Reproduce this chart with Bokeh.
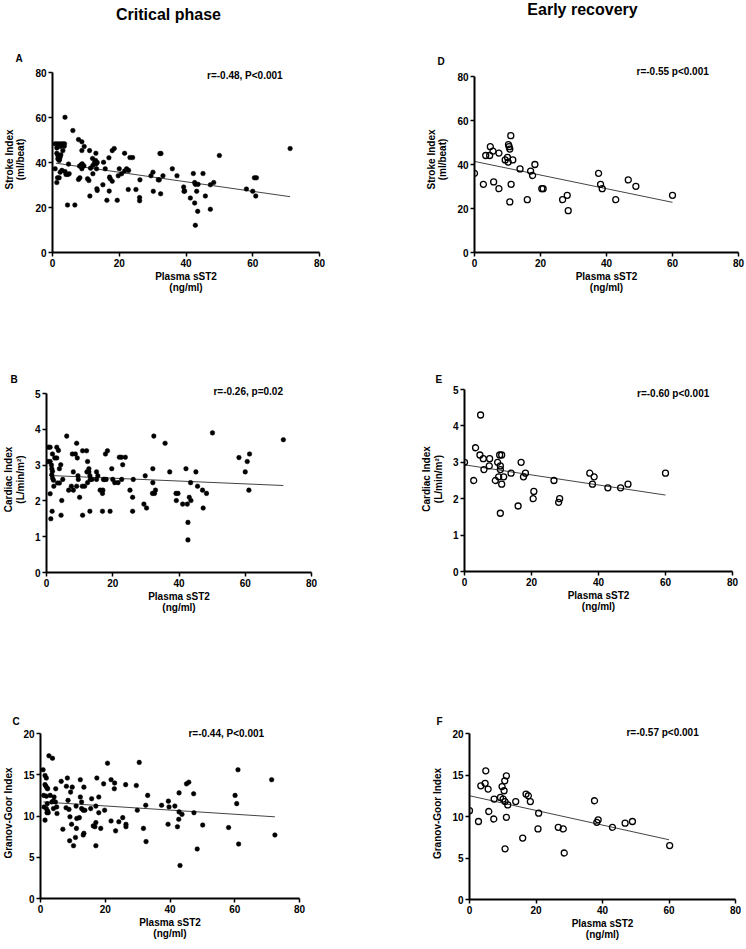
from bokeh.plotting import figure
from bokeh.models import Range1d, FixedTicker, Label, Title
from bokeh.layouts import column, row
from bokeh.embed import file_html
from bokeh.resources import INLINE

FONT = "Liberation Sans"

# ---------------- Data ----------------
headers = ["Critical phase", "Early recovery"]

# Critical phase
crit_sst2_A = [3.75, 6.1, 7.8, 8.8, 9.5, 8.8, 11.1, 13.0, 0.8, 1.5, 2.3, 3.0, 3.6, 3.5, 2.3, 1.3, 3.1,
               1.3, 1.6, 1.9, 1.6, 2.0, 2.5, 2.3, 2.1, 4.8, 0.8, 2.3, 2.8, 3.75, 4.05, 4.6, 5.0, 1.5, 2.0,
               1.3, 4.5, 6.7, 8.1, 8.8, 9.4, 7.8, 8.2, 8.6, 8.9, 10.5, 10.9, 11.2, 11.4, 12.1, 12.6, 12.9,
               13.1, 13.4, 12.1, 12.0, 13.2, 13.3, 13.4, 15.3, 15.8, 15.1, 16.3, 16.9, 17.1, 17.3, 17.9,
               17.0, 17.9, 18.5, 19.4, 19.7, 20.0, 20.7, 21.6, 21.6, 22.2, 22.8, 22.7, 23.2, 24.0, 25.0,
               26.2, 26.1, 26.1, 29.5, 30.1, 30.2, 31.7, 32.2, 32.5, 32.0, 32.4, 33.1, 35.9, 37.3, 39.3,
               39.4, 39.6, 41.3, 42.2, 42.6, 42.8, 42.6, 42.8, 43.2, 43.5, 43.6, 45.1, 45.8, 47.3, 47.3,
               48.3, 50.0, 58.1, 60.0, 60.5, 61.1, 60.9, 71.2]
stroke_index_A = [60.1, 54.2, 50.2, 49.2, 47.1, 45.3, 45.3, 44.1, 48.3, 48.3, 48.3, 48.3, 48.3, 47.2, 47.1,
                  46.5, 45.3, 44.1, 43.1, 42.4, 41.6, 40.9, 43.4, 42.4, 41.5, 39.3, 37.2, 35.7, 36.5, 36.0,
                  34.7, 34.7, 35.0, 33.2, 33.2, 31.1, 21.1, 21.1, 38.4, 37.2, 38.5, 32.5, 33.2, 39.0, 39.4,
                  32.8, 32.0, 25.1, 37.5, 38.7, 40.0, 40.9, 39.4, 40.0, 35.0, 41.8, 37.2, 28.3, 27.6, 40.1,
                  37.2, 30.1, 23.2, 42.1, 33.5, 32.8, 31.7, 27.3, 45.3, 46.2, 23.2, 34.1, 37.2, 35.0, 44.1,
                  36.2, 37.2, 36.5, 28.0, 42.2, 42.2, 28.0, 32.3, 24.4, 23.0, 34.1, 35.7, 27.2, 32.3, 44.0,
                  44.0, 32.3, 26.1, 34.1, 37.2, 34.1, 29.1, 27.2, 27.3, 24.2, 35.1, 31.1, 30.3, 22.0, 12.1,
                  27.2, 18.3, 30.3, 35.1, 25.1, 19.2, 30.1, 31.1, 43.1, 28.2, 27.2, 33.2, 33.2, 25.1, 46.2]
fit_x_A = [1.0, 71.2]
fit_y_A = [39.7, 24.8]

crit_sst2_B = [0.5, 1.1, 0.6, 1.1, 1.1, 1.3, 1.5, 1.6, 1.8, 1.6, 1.8, 2.1, 1.8, 2.5, 3.1, 2.2, 1.7, 3.1,
               3.6, 3.3, 3.9, 3.9, 4.3, 4.6, 4.4, 4.9, 6.1, 6.7, 7.8, 8.7, 7.5, 8.1, 8.1, 9.1, 9.3, 9.5,
               9.6, 10.0, 9.1, 10.8, 11.5, 10.9, 12.1, 10.9, 12.2, 12.8, 12.4, 12.4, 12.8, 13.1, 13.2,
               13.7, 13.1, 15.1, 15.1, 15.5, 16.2, 17.0, 17.2, 17.5, 18.0, 16.9, 16.9, 17.8, 18.4, 19.2,
               19.7, 20.0, 20.6, 21.6, 22.0, 22.6, 22.7, 23.0, 23.8, 25.2, 26.0, 26.2, 26.0, 29.4, 29.8,
               30.2, 32.0, 32.6, 32.1, 32.1, 32.4, 32.9, 35.8, 37.2, 39.1, 39.7, 39.2, 41.1, 42.1, 42.5,
               42.7, 42.7, 43.1, 43.5, 43.6, 45.1, 45.6, 47.1, 47.3, 48.3, 50.1, 58.1, 60.0, 60.6, 61.3,
               61.1, 71.5]
cardiac_index_B = [3.1, 3.1, 3.5, 3.5, 2.2, 1.5, 3.0, 2.9, 2.83, 2.73, 2.64, 2.58, 3.31, 3.2, 3.2, 2.41,
                   1.71, 3.5, 3.41, 2.5, 2.5, 2.9, 3.01, 2.01, 1.6, 2.6, 3.81, 2.3, 3.31, 3.31, 2.41, 2.81,
                   2.3, 3.61, 3.2, 2.7, 2.6, 2.1, 2.41, 2.41, 2.41, 3.4, 3.4, 1.6, 2.81, 2.81, 3.1, 2.51,
                   2.9, 2.7, 2.6, 2.6, 1.71, 2.81, 2.6, 2.7, 2.3, 2.3, 2.6, 2.6, 2.6, 2.21, 1.71, 3.31, 3.4,
                   1.71, 2.9, 2.6, 2.51, 2.51, 3.22, 3.22, 2.6, 3.01, 3.22, 2.3, 2.1, 2.6, 1.71, 1.91, 2.7,
                   1.8, 2.21, 2.21, 2.9, 2.51, 3.81, 2.3, 3.61, 2.81, 2.21, 2.21, 2.01, 1.91, 2.9, 1.91,
                   1.4, 0.91, 2.1, 2.51, 2.01, 2.81, 2.41, 2.3, 1.8, 2.21, 3.9, 3.21, 2.81, 3.1, 3.31, 2.3,
                   3.71]
fit_x_B = [0.8, 71.5]
fit_y_B = [2.71, 2.43]

crit_sst2_C = [0.8, 1.4, 1.8, 1.4, 1.7, 2.0, 2.2, 1.0, 1.8, 1.4, 1.1, 1.8, 2.2, 2.0, 2.4, 2.1, 2.6, 3.7,
               3.0, 3.5, 4.0, 4.6, 4.2, 4.7, 4.0, 5.0, 5.1, 6.4, 6.9, 8.0, 8.3, 7.9, 8.5, 8.8, 9.0, 9.1,
               9.3, 9.6, 9.8, 10.2, 10.8, 11.0, 11.1, 11.2, 12.0, 12.3, 12.3, 12.7, 12.7, 13.2, 13.4,
               13.2, 13.4, 13.7, 15.8, 15.5, 16.3, 16.8, 17.1, 17.1, 17.1, 17.4, 18.0, 18.0, 18.6, 19.5,
               19.8, 20.7, 21.8, 21.8, 22.9, 22.8, 23.2, 24.2, 25.4, 26.3, 26.4, 26.4, 29.6, 29.9, 30.5,
               31.8, 32.5, 32.6, 33.1, 37.4, 39.4, 39.5, 39.7, 41.5, 42.3, 42.8, 42.7, 42.8, 43.1, 43.7,
               45.1, 45.8, 47.3, 47.4, 48.4, 50.1, 58.1, 60.1, 60.6, 61.0, 61.2, 71.4, 72.4]
granov_goor_C = [15.6, 14.9, 14.6, 13.8, 13.6, 13.4, 13.3, 12.5, 12.4, 9.5, 11.1, 10.9, 10.6, 10.4, 10.4,
                 11.5, 17.3, 17.0, 12.5, 11.7, 11.8, 11.7, 12.3, 13.3, 10.9, 11.1, 10.3, 14.2, 8.4, 13.6,
                 14.6, 11.0, 11.9, 10.8, 7.0, 9.9, 12.9, 9.0, 13.5, 6.4, 7.4, 11.2, 8.5, 9.7, 9.8, 14.4,
                 12.3, 11.7, 10.9, 10.7, 13.5, 7.7, 7.9, 10.7, 12.1, 10.9, 8.8, 8.7, 9.2, 11.2, 6.4, 14.6,
                 12.3, 10.4, 8.5, 13.9, 10.7, 16.4, 9.4, 14.4, 14.0, 13.3, 8.2, 9.3, 9.8, 13.8, 9.0, 8.7,
                 13.7, 10.7, 16.5, 8.5, 11.3, 6.9, 12.5, 11.3, 9.0, 11.8, 11.1, 11.2, 8.7, 12.8, 9.6,
                 10.5, 4.0, 10.2, 13.9, 14.1, 12.7, 10.4, 6.0, 8.9, 8.6, 12.5, 11.5, 15.6, 6.6, 14.4, 7.7]
fit_x_C = [0.9, 72.4]
fit_y_C = [11.7, 9.9]

# Early recovery
rec_sst2 = [0.0, 2.7, 3.4, 4.6, 4.8, 5.6, 5.8, 7.4, 7.4, 9.3, 10.0, 10.3, 10.5, 10.7, 10.2, 11.0, 11.6,
            11.1, 10.7, 13.8, 16.0, 17.0, 17.6, 18.3, 20.4, 20.8, 26.7, 28.1, 28.4, 37.6, 38.2, 38.7,
            42.8, 46.6, 48.9, 60.0]
stroke_index_D = [36.0, 31.0, 44.1, 44.1, 48.1, 46.1, 32.1, 45.2, 29.0, 42.1, 43.2, 49.0, 48.1, 47.0,
                  41.1, 53.1, 42.1, 31.0, 23.0, 38.0, 24.0, 37.0, 35.0, 40.0, 29.0, 29.0, 24.0, 26.0,
                  19.0, 36.0, 31.0, 29.0, 24.0, 33.0, 30.1, 26.0]
fit_x_D = [0.0, 60.0]
fit_y_D = [41.4, 22.8]

rec_sst2_E = [0.0, 2.75, 3.3, 4.8, 4.6, 5.6, 5.8, 7.5, 7.4, 9.2, 9.9, 10.2, 10.5, 11.1, 10.7, 10.7, 10.7,
              11.1, 11.7, 13.9, 16.0, 16.9, 17.6, 18.2, 20.5, 20.7, 26.7, 28.1, 28.4, 37.4, 38.7, 38.2,
              42.8, 46.6, 48.8, 60.0]
cardiac_index_E = [3.0, 2.5, 3.4, 4.3, 3.2, 3.1, 2.8, 3.1, 2.9, 2.5, 3.0, 2.6, 3.2, 3.2, 2.9, 2.8, 1.6,
                   2.4, 2.6, 2.7, 1.8, 3.0, 2.6, 2.7, 2.0, 2.2, 2.5, 1.9, 2.0, 2.7, 2.6, 2.4, 2.3, 2.3,
                   2.4, 2.7]
fit_x_E = [0.0, 60.0]
fit_y_E = [2.93, 2.10]

rec_sst2_F = [0.0, 2.7, 3.4, 4.7, 4.9, 5.6, 5.8, 7.4, 7.3, 9.3, 9.8, 10.4, 10.1, 10.6, 11.1, 10.7, 11.1,
              11.5, 10.7, 13.9, 16.0, 17.0, 17.7, 18.3, 20.6, 20.8, 26.7, 28.2, 28.5, 37.6, 38.3, 38.7,
              43.0, 46.8, 49.0, 60.2]
granov_goor_F = [10.7, 9.4, 13.7, 14.0, 15.5, 13.3, 10.6, 12.1, 9.7, 12.3, 13.6, 13.1, 12.1, 14.3, 14.9,
                 11.8, 9.9, 11.4, 6.1, 11.8, 7.4, 12.7, 12.5, 11.8, 8.5, 10.4, 8.7, 8.5, 5.6, 11.9, 9.3,
                 9.6, 8.7, 9.2, 9.4, 6.5]
fit_x_F = [0.0, 60.0]
fit_y_F = [12.5, 7.2]

x_ticks = [0, 20, 40, 60, 80]
si_ticks = [0, 20, 40, 60, 80]
ci_ticks = [0, 1, 2, 3, 4, 5]
gg_ticks = [0, 5, 10, 15, 20]

x_label = "Plasma sST2\n(ng/ml)"
si_label = "Stroke Index\n(ml/beat)"
ci_label = "Cardiac Index\n(L/min/m\u00b2)"
gg_label = "Granov-Goor Index"


def panel(xs, ys, fx, fy, y_top, y_ticks, y_label, note, nx, ny, letter, letter_off,
          hollow, fw, bl, br, row_top, row_bot, ax_top, ax_bot, pad, letter_y):
    # page geometry (pixels): frame spans ax_top - pad .. ax_bot, the drawn y axis ax_top .. ax_bot
    frame_top = ax_top - pad
    fh = ax_bot - frame_top
    bt = frame_top - row_top
    bb = row_bot - ax_bot
    y_end = y_top * fh / (fh - pad)
    p = figure(frame_width=fw, frame_height=fh, min_border_left=bl, min_border_right=br,
               min_border_top=bt, min_border_bottom=bb, title=None,
               x_range=Range1d(0, 80), y_range=Range1d(0, y_end),
               output_backend="svg", toolbar_location=None, tools="")
    p.outline_line_color = None
    p.xgrid.visible = False
    p.ygrid.visible = False
    p.background_fill_color = "white"
    p.border_fill_color = "white"
    for ax, ticks, lab in ((p.xaxis[0], x_ticks, x_label), (p.yaxis[0], y_ticks, y_label)):
        ax.ticker = FixedTicker(ticks=ticks)
        ax.axis_label = lab
        ax.axis_line_width = 2
        ax.axis_line_color = "black"
        ax.major_tick_line_width = 1.5
        ax.major_tick_line_color = "black"
        ax.major_tick_in = 0
        ax.major_tick_out = 4
        ax.minor_tick_line_color = None
        ax.major_label_text_font = FONT
        ax.major_label_text_font_style = "bold"
        ax.major_label_text_font_size = "10px"
        ax.major_label_text_color = "black"
        ax.major_label_standoff = 2
        ax.axis_label_text_font = FONT
        ax.axis_label_text_font_style = "bold"
        ax.axis_label_text_font_size = "10px"
        ax.axis_label_text_color = "black"
        ax.axis_label_text_line_height = 1.05
    p.xaxis[0].axis_label_standoff = 1
    p.yaxis[0].axis_label_standoff = 6
    p.yaxis[0].bounds = (0, y_top)

    p.line(fx, fy, line_color="#444444", line_width=1)
    if hollow:
        p.scatter(xs, ys, marker="circle", size=6, fill_color=None,
                  line_color="black", line_width=1.3)
    else:
        p.scatter(xs, ys, marker="circle", size=4.6, fill_color="black",
                  line_color="black", line_width=0.5)

    p.add_layout(Label(x=nx, y=ny, text=note, text_font=FONT, text_font_style="bold",
                       text_font_size="10px", text_baseline="middle", text_align="left",
                       text_color="black"))
    standoff = max(frame_top - letter_y - 4, 0)
    p.add_layout(Title(text=letter, align="left", offset=letter_off, standoff=standoff,
                       text_font=FONT, text_font_style="bold", text_font_size="10px",
                       text_color="black"),
                 "above")
    return p


# row boundaries in picture pixels (the layout is drawn from the picture's top edge)
R0, R1, R2, R3 = 27, 327, 647, 941
PAGE_W = 737

# header strip: a small figure whose frame is the whole strip (pixel-like coordinates)
head = figure(width=PAGE_W, height=R0, x_range=Range1d(0, PAGE_W), y_range=Range1d(0, R0),
              min_border=0, title=None, x_axis_location=None, y_axis_location=None,
              output_backend="svg", toolbar_location=None, tools="")
head.outline_line_color = None
head.xgrid.visible = False
head.ygrid.visible = False
for txt, cx, top in zip(headers, [168, 582], [22, 26.5]):
    head.add_layout(Label(x=cx, y=top, text=txt, text_font=FONT, text_font_style="bold",
                          text_font_size="16px", text_align="center", text_baseline="top",
                          text_color="black"))

pA = panel(crit_sst2_A, stroke_index_A, fit_x_A, fit_y_A, 80, si_ticks, si_label,
           "r=-0.48, P<0.001", 46.3, 78.7, "A", -37, False, 267, 44, 54, R0, R1, 72, 252, 6, 57)
pD = panel(rec_sst2, stroke_index_D, fit_x_D, fit_y_D, 80, si_ticks, si_label,
           "r=-0.55 p<0.001", 49.1, 82.2, "D", -37, True, 264, 101, 7, R0, R1, 71, 247, 10, 57)
pB = panel(crit_sst2_B, cardiac_index_B, fit_x_B, fit_y_B, 5, ci_ticks, ci_label,
           "r=-0.26, p=0.02", 50.4, 5.05, "B", -36, False, 265, 44, 56, R1, R2, 392, 571, 7, 378)
pE = panel(rec_sst2_E, cardiac_index_E, fit_x_E, fit_y_E, 5, ci_ticks, ci_label,
           "r=-0.60 p<0.001", 51.5, 4.9, "E", -29, True, 268, 97, 7, R1, R2, 389, 571, 3, 378)
pC = panel(crit_sst2_C, granov_goor_C, fit_x_C, fit_y_C, 20, gg_ticks, gg_label,
           "r=-0.44, P<0.001", 45.7, 20.0, "C", -28, False, 259, 36, 70, R2, R3, 733, 898, 6, 722)
pF = panel(rec_sst2_F, granov_goor_F, fit_x_F, fit_y_F, 20, gg_ticks, gg_label,
           "r=-0.57 p<0.001", 47.2, 20.1, "F", -33, True, 266, 100, 6, R2, R3, 732, 898, 6, 721)

layout = column(head, row(pA, pD), row(pB, pE), row(pC, pF))

open("out.html", "w").write(file_html(layout, INLINE))
